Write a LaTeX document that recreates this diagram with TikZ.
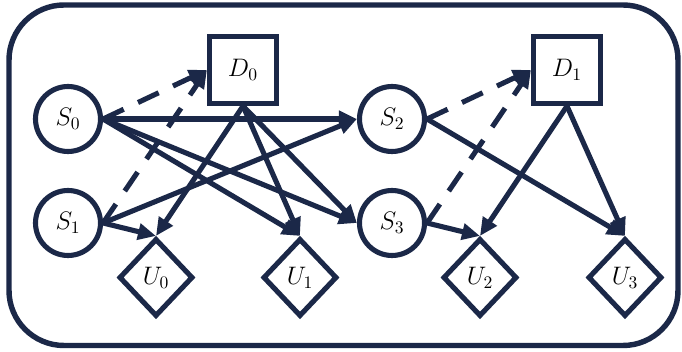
\documentclass[tikz,border=0pt]{standalone}
\usepackage{tikz}
\usepackage{xcolor}
\usetikzlibrary{arrows.meta,shapes.geometric}
\definecolor{netnavy}{RGB}{27,40,72}

\begin{document}
\begin{tikzpicture}[
  statenode/.style={circle, draw=netnavy, fill=white, line width=2.9pt,
                    minimum size=1.3cm, inner sep=0pt, font=\Large},
  decnode/.style={rectangle, draw=netnavy, fill=white, line width=2.9pt,
                  minimum size=1.34cm, inner sep=0pt, font=\Large},
  utilnode/.style={diamond, draw=netnavy, fill=white, line width=2.9pt,
                   minimum width=1.48cm, minimum height=1.56cm, inner sep=0pt,
                   font=\Large},
  link/.style={draw=netnavy, line width=2.9pt,
               -{Triangle[length=0.36cm,width=0.32cm]}},
  infolink/.style={link, dash pattern=on 13pt off 9pt}
]

% ── Frame ────────────────────────────────────────────────────────────────────
\useasboundingbox (0,0) rectangle (13.64,7.04);
\draw[netnavy, line width=3.1pt, rounded corners=1.1cm]
  (0.18,0.13) rectangle (13.56,6.94);

% second slice sits one step to the right of the first
\pgfmathsetmacro{\shift}{6.48}

% ════════════════════════════════════════════════════════════════════════════
% NODES
% ════════════════════════════════════════════════════════════════════════════

% left slice
\node[statenode] (S0) at (1.36,4.66) {$S_0$};
\node[statenode] (S1) at (1.36,2.58) {$S_1$};
\node[decnode]   (D0) at (4.86,5.64) {$D_0$};
\node[utilnode]  (U0) at (3.12,1.49) {$U_0$};
\node[utilnode]  (U1) at (6.00,1.49) {$U_1$};

% right slice
\node[statenode] (S2) at (1.36+\shift,4.66) {$S_2$};
\node[statenode] (S3) at (1.36+\shift,2.58) {$S_3$};
\node[decnode]   (D1) at (4.86+\shift,5.64) {$D_1$};
\node[utilnode]  (U2) at (3.12+\shift,1.49) {$U_2$};
\node[utilnode]  (U3) at (6.02+\shift,1.49) {$U_3$};

% ════════════════════════════════════════════════════════════════════════════
% EDGES
% ════════════════════════════════════════════════════════════════════════════

% information arcs (dashed)
\draw[infolink] (S0.east) -- (D0.west);
\draw[infolink] (S1.east) -- (D0.west);
\draw[infolink] (S2.east) -- (D1.west);
\draw[infolink] (S3.east) -- (D1.west);

% left slice
\draw[link] (S1.east)  -- (U0.north);
\draw[link] (D0.south) -- (U0.north);
\draw[link] (D0.south) -- (U1.north);
\draw[link] (S0.east)  -- (U1.north);

% transitions into the right slice
\draw[link] (S0.east)  -- (S2.west);
\draw[link] (S1.east)  -- (S2.west);
\draw[link] (S0.east)  -- (S3.west);
\draw[link] (D0.south) -- (S3.west);

% right slice
\draw[link] (S3.east)  -- (U2.north);
\draw[link] (D1.south) -- (U2.north);
\draw[link] (D1.south) -- (U3.north);
\draw[link] (S2.east)  -- (U3.north);

\end{tikzpicture}
\end{document}
